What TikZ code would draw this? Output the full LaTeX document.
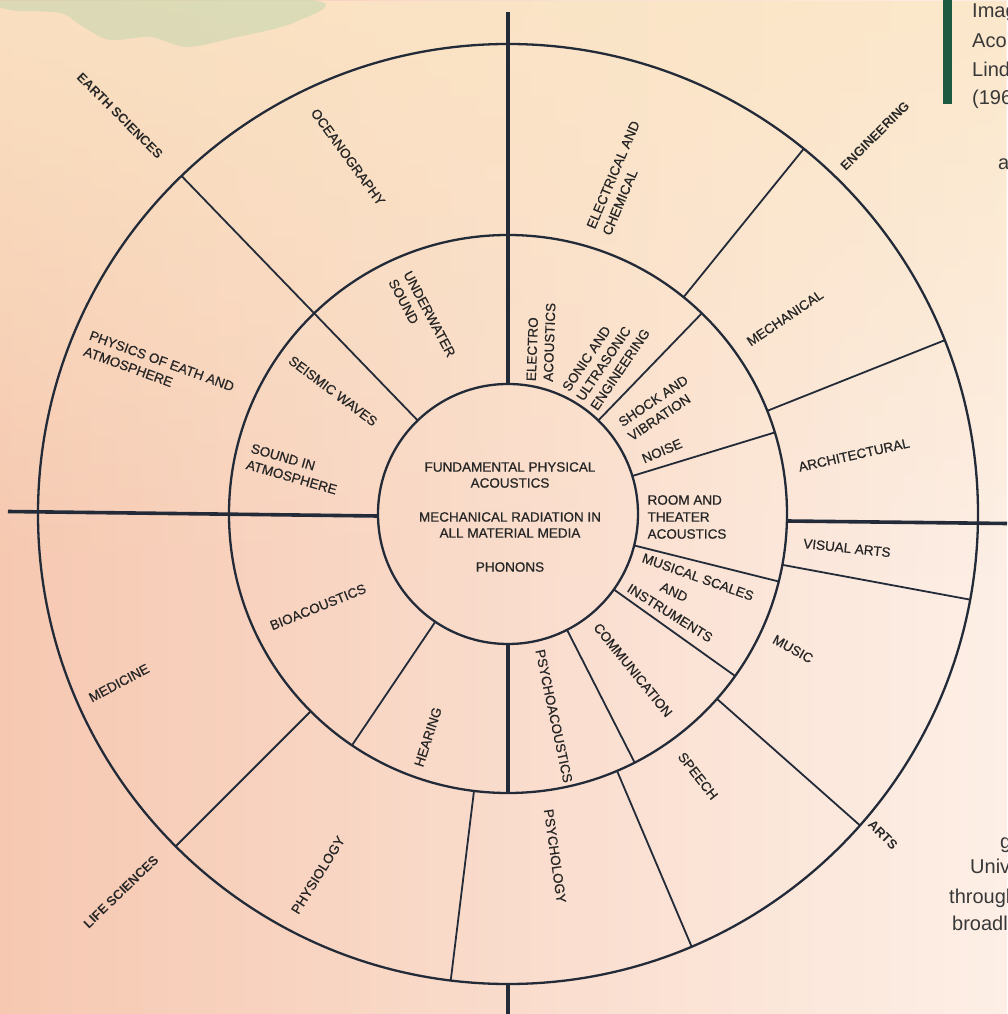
\documentclass[tikz,border=0pt]{standalone}
\usepackage{fontspec}
\setmainfont{Liberation Sans}
\newfontfamily\scanfont{Liberation Sans}[FakeBold=0.6]
\usetikzlibrary{fadings}
\definecolor{trait}{HTML}{232B39}
\definecolor{encre}{HTML}{262626}
\definecolor{fondG}{HTML}{F6C8B1}
\definecolor{fondM}{HTML}{F9DCC3}
\definecolor{fondD}{HTML}{FDEFE6}
\definecolor{creme}{HTML}{FBE6C4}
\definecolor{sauge}{HTML}{C9D7B0}
\definecolor{vert}{HTML}{1C5A41}
\begin{document}
\begin{tikzpicture}[x=1pt,y=1pt,
    lab/.style={font=\scanfont\fontsize{13.5}{17}\selectfont, text=encre, inner sep=0pt, align=left},
    quad/.style={lab, font=\bfseries\fontsize{13}{16}\selectfont},
    ring/.style={draw=trait, line width=2.3pt},
    div/.style={draw=trait, line width=1.8pt},
    axe/.style={draw=trait, line width=3.6pt},
    note/.style={font=\fontsize{20}{24}\selectfont, text=black!78, anchor=base west, inner sep=0pt}]
    \useasboundingbox (-508,-500) rectangle (499,514);

    % Fond
    \shade[left color=fondG, middle color=fondM, right color=fondD] (-508,-500) rectangle (499,514);
    \fill[creme, opacity=.8, path fading=south] (-508,514) rectangle (499,-60);
    \fill[sauge, opacity=.6] plot[smooth cycle] coordinates {(-501,514) (-498,504) (-448,501) (-425,487)
        (-398,474) (-358,477) (-321,467) (-275,476) (-215,491) (-198,514)};
    \fill[vert] (435,514) rectangle (444,410);

    % Cercles
    \draw[ring] (0,0) circle[radius=130];
    \draw[ring] (0,0) circle[radius=279];
    \draw[ring] (0,0) circle[radius=470];

    % Separations anneau interieur
    \foreach \a in {46,17,-14,-35.5,-63,236} {
        \draw[div] (\a:130) -- (\a:279);
    }
    % Separations anneau exterieur
    \foreach \a in {51,21.7,-10.5,-41.5,-67,263,225} {
        \draw[div] (\a:279) -- (\a:470);
    }
    \draw[div] (134:130) -- (134:470);

    % Axes
    \draw[axe] (0,502) -- (90:130);
    \draw[axe] (-90:130) -- (-90:279);
    \draw[axe] (-90:470) -- (0,-500);
    \draw[axe] (-500,2.5) -- (-130,-2);
    \draw[axe] (279,-7) -- (499,-9.5);

    % Centre
    \node[lab, align=center, font=\scanfont\fontsize{13.5}{16}\selectfont] (fond) at (2,-3)
        {FUNDAMENTAL PHYSICAL\\ACOUSTICS\\[18pt]MECHANICAL RADIATION IN\\ALL MATERIAL MEDIA\\[18pt]PHONONS};

    % Quadrants
    \node[quad, rotate=-45] (terre) at (-388,398) {EARTH SCIENCES};
    \node[quad, rotate=45] (ingen) at (367,378) {ENGINEERING};
    \node[quad, rotate=-45] (arts) at (375,-321) {ARTS};
    \node[quad, rotate=44] (vie) at (-387,-378) {LIFE SCIENCES};

    % Anneau interieur
    \node[lab, rotate=88] (electro) at (33,172) {ELECTRO\\ACOUSTICS};
    \node[lab, rotate=56] (sonic) at (98,154) {SONIC AND\\ULTRASONIC\\ENGINEERING};
    \node[lab, rotate=34] (choc) at (150,106) {SHOCK AND\\VIBRATION};
    \node[lab, rotate=23] (bruit) at (154,63) {NOISE};
    \node[lab] (salle) at (179,-3) {ROOM AND\\THEATER\\ACOUSTICS};
    \node[lab, rotate=-19.5] (mus1) at (190,-63) {MUSICAL SCALES};
    \node[lab, rotate=-25] (mus2) at (166,-78) {AND};
    \node[lab, rotate=-32] (mus3) at (162,-99) {INSTRUMENTS};
    \node[lab, rotate=-51] (comm) at (125,-156) {COMMUNICATION};
    \node[lab, rotate=-78] (psyac) at (46,-202) {PSYCHOACOUSTICS};
    \node[lab, rotate=72] (audit) at (-80,-223) {HEARING};
    \node[lab, rotate=22] (bio) at (-190,-93) {BIOACOUSTICS};
    \node[lab, rotate=-16] (atmo) at (-214,45) {SOUND IN\\ATMOSPHERE};
    \node[lab, rotate=-37] (seism) at (-175,123) {SEISMIC WAVES};
    \node[lab, rotate=-62] (marin) at (-86,196) {UNDERWATER\\SOUND};

    % Anneau exterieur
    \node[lab, rotate=-54] (ocean) at (-160,357) {OCEANOGRAPHY};
    \node[lab, rotate=67] (elec) at (113,336) {ELECTRICAL AND\\CHEMICAL};
    \node[lab, rotate=34] (meca) at (277,196) {MECHANICAL};
    \node[lab, rotate=12.5] (archi) at (346,59) {ARCHITECTURAL};
    \node[lab, rotate=-6] (visu) at (339,-34) {VISUAL ARTS};
    \node[lab, rotate=-29] (musique) at (285,-135) {MUSIC};
    \node[lab, rotate=-52] (parole) at (190,-262) {SPEECH};
    \node[lab, rotate=-82] (psycho) at (47,-342) {PSYCHOLOGY};
    \node[lab, rotate=58] (physio) at (-190,-361) {PHYSIOLOGY};
    \node[lab, rotate=28] (medec) at (-389,-169) {MEDICINE};
    \node[lab, rotate=-20] (physique) at (-349,145) {PHYSICS OF EATH AND\\ATMOSPHERE};

    % Texte coupe a droite
    \begin{scope}
        \clip (-508,-500) rectangle (499,514);
        \node[note] (t1) at (464,496) {Imag};
        \node[note] (t2) at (464,466) {Aco};
        \node[note] (t3) at (464,437) {Lind};
        \node[note] (t4) at (464,409) {(196};
        \node[note] (t5) at (490,344) {a};
        \node[note] (t6) at (492,-334) {g};
        \node[note] (t7) at (462,-359) {Univ};
        \node[note] (t8) at (441,-389) {through};
        \node[note] (t9) at (444,-416) {broadl};
    \end{scope}
\end{tikzpicture}
\end{document}
